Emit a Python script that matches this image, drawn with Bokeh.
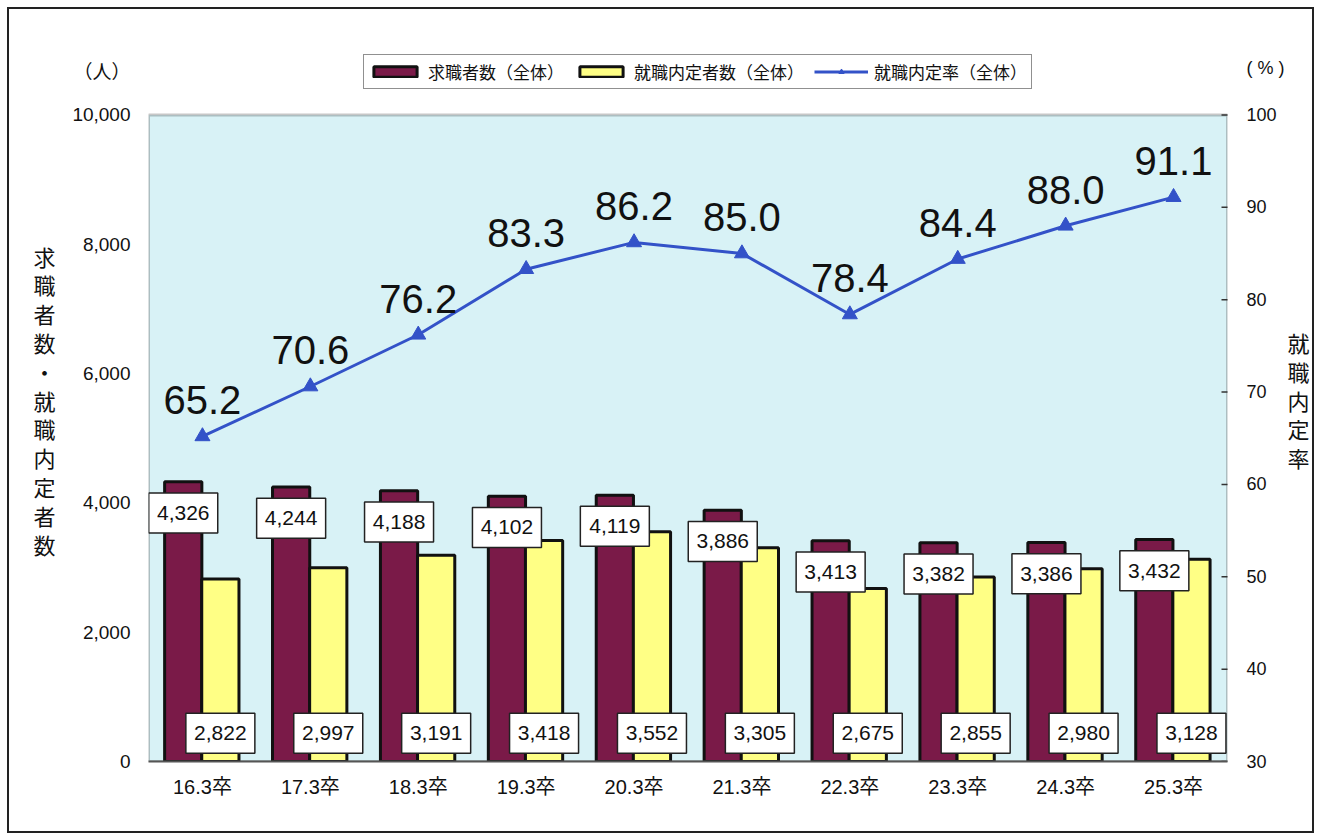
from bokeh.plotting import figure
from bokeh.models import (Range1d, LinearAxis, FixedTicker,
                          ColumnDataSource, LabelSet, Legend, LegendItem,
                          FactorRange, BoxAnnotation, CustomJSTickFormatter)
from bokeh.transform import dodge
from bokeh.core.properties import value
from bokeh.embed import file_html
from bokeh.resources import INLINE

categories = ["16.3卒", "17.3卒", "18.3卒", "19.3卒", "20.3卒",
              "21.3卒", "22.3卒", "23.3卒", "24.3卒", "25.3卒"]
job_seekers = [4326, 4244, 4188, 4102, 4119, 3886, 3413, 3382, 3386, 3432]
job_offers = [2822, 2997, 3191, 3418, 3552, 3305, 2675, 2855, 2980, 3128]
offer_rate = [65.2, 70.6, 76.2, 83.3, 86.2, 85.0, 78.4, 84.4, 88.0, 91.1]
left_ticks = [0, 2000, 4000, 6000, 8000, 10000]
right_ticks = [30, 40, 50, 60, 70, 80, 90, 100]

legend_labels = ["求職者数（全体）", "就職内定者数（全体）", "就職内定率（全体）"]
left_title = "求\n職\n者\n数\n・\n就\n職\n内\n定\n者\n数"
right_title = "就\n職\n内\n定\n率"
left_unit = "（人）"
right_unit = "( % )"

MAROON = "#7A1A48"
YELLOW = "#FFFF85"
BLUE = "#3352C8"
BG = "#D8F2F6"
JP = "Noto Sans CJK JP"
LAT = "Liberation Sans, Noto Sans CJK JP"

# layout, in page pixels; the figure sits inside a 2px border at (7, 7)
OFF = 9
W, H = 1303, 822
F_LEFT, F_RIGHT = 148 - OFF, 1223 - OFF       # plot-area x extent
F_TOP, AREA_TOP, F_BOTTOM = 37 - OFF, 114 - OFF, 757 - OFF

Y_MAX = 10000
R_MIN, R_MAX = 30, 100
px_per_left = (F_BOTTOM - AREA_TOP) / Y_MAX
px_per_right = (F_BOTTOM - AREA_TOP) / (R_MAX - R_MIN)
Y_TOP = Y_MAX + (AREA_TOP - F_TOP) / px_per_left
R_TOP = R_MAX + (AREA_TOP - F_TOP) / px_per_right
LEFT_UNIT_Y = Y_MAX + (AREA_TOP - (72 - OFF)) / px_per_left
RIGHT_UNIT_Y = R_MAX + (AREA_TOP - (67 - OFF)) / px_per_right

SEEK_LABEL_DROP = 31 / px_per_left    # maroon label box ~31px below bar top
OFFER_LABEL_Y = 435                   # yellow labels sit along the bottom

src = ColumnDataSource(dict(
    cat=categories,
    seekers=job_seekers,
    offers=job_offers,
    rate=offer_rate,
    seekers_txt=[f"{v:,}" for v in job_seekers],
    offers_txt=[f"{v:,}" for v in job_offers],
    rate_txt=[f"{v:.1f}" for v in offer_rate],
    seekers_lbl_y=[v - SEEK_LABEL_DROP for v in job_seekers],
    offers_lbl_y=[OFFER_LABEL_Y] * len(categories),
))
rtick_src = ColumnDataSource(dict(x=[len(categories)] * len(right_ticks), y=right_ticks))

p = figure(width=W, height=H, x_range=FactorRange(*categories),
           y_range=Range1d(0, Y_TOP), output_backend="svg", toolbar_location=None,
           min_border_left=F_LEFT, min_border_right=W - F_RIGHT,
           min_border_top=F_TOP, min_border_bottom=H - F_BOTTOM)
p.background_fill_color = "white"
p.border_fill_color = "white"
p.outline_line_color = None
p.xgrid.grid_line_color = None
p.ygrid.grid_line_color = None
p.styles = {"border": "2px solid #222222", "margin-left": "7px", "margin-top": "7px",
            "box-sizing": "content-box"}

p.extra_y_ranges = {"rate": Range1d(R_MIN, R_TOP)}

# plot area background + border
p.add_layout(BoxAnnotation(bottom=0, top=Y_MAX, fill_color=BG, fill_alpha=1,
                           line_color="#444444", line_width=3, level="underlay"))

# left axis (with unit label on top)
ya = p.yaxis[0]
ya.ticker = FixedTicker(ticks=left_ticks + [LEFT_UNIT_Y])
ya.formatter = CustomJSTickFormatter(
    args=dict(unit=left_unit, top=Y_MAX),
    code="return tick > top ? unit : tick.toLocaleString('en-US', {maximumFractionDigits: 0});")
ya.major_label_text_font = LAT
ya.major_label_text_font_size = "19px"
ya.major_label_text_color = "#111111"
ya.major_tick_line_color = None
ya.minor_tick_line_color = None
ya.axis_line_color = None
ya.major_label_standoff = 12
ya.axis_label = left_title
ya.axis_label_orientation = "horizontal"
ya.axis_label_text_font = JP
ya.axis_label_text_font_size = "22px"
ya.axis_label_text_font_style = "normal"
ya.axis_label_text_color = "#111111"
ya.axis_label_text_line_height = 0.9
ya.axis_label_standoff = 14

# right axis (with unit label on top)
ra = LinearAxis(y_range_name="rate", ticker=FixedTicker(ticks=right_ticks + [RIGHT_UNIT_Y]))
ra.formatter = CustomJSTickFormatter(
    args=dict(unit=right_unit, top=R_MAX),
    code="return tick > top ? unit : tick.toFixed(0);")
ra.major_label_text_font = LAT
ra.major_label_text_font_size = "18px"
ra.major_label_text_color = "#111111"
ra.major_tick_line_color = None
ra.minor_tick_line_color = None
ra.axis_line_color = None
ra.major_label_standoff = 13
ra.axis_label = right_title
ra.axis_label_orientation = "horizontal"
ra.axis_label_text_font = JP
ra.axis_label_text_font_size = "22px"
ra.axis_label_text_font_style = "normal"
ra.axis_label_text_color = "#111111"
ra.axis_label_text_line_height = 0.9
ra.axis_label_standoff = 0
p.add_layout(ra, "right")

# right axis inward tick marks
p.scatter(x="x", y="y", source=rtick_src, y_range_name="rate", marker="dash",
          size=12, line_color="#333333", line_width=1.5)

# x axis
xa = p.xaxis[0]
xa.major_label_text_font = LAT
xa.major_label_text_font_size = "20px"
xa.major_label_text_color = "#111111"
xa.major_tick_line_color = None
xa.minor_tick_line_color = None
xa.major_label_standoff = 8
xa.axis_line_color = "#555555"
xa.axis_line_width = 2

SEEK_DX = -0.178
OFF_DX = 0.166

# bars
r_seek = p.vbar(x=dodge("cat", SEEK_DX, range=p.x_range), top="seekers", width=0.345,
                source=src, fill_color=MAROON, line_color="#111111", line_width=3)
r_off = p.vbar(x=dodge("cat", OFF_DX, range=p.x_range), top="offers", width=0.345,
               source=src, fill_color=YELLOW, line_color="#111111", line_width=3)

# rate line
r_line = p.line(x="cat", y="rate", source=src, y_range_name="rate",
                line_color=BLUE, line_width=3)
r_pts = p.scatter(x="cat", y="rate", source=src, y_range_name="rate",
                  marker="triangle", size=15, fill_color=BLUE, line_color=BLUE)

# value label boxes
p.rect(x=dodge("cat", SEEK_DX, range=p.x_range), y="seekers_lbl_y", width=69, height=40,
       width_units="screen", height_units="screen", source=src,
       fill_color="white", line_color="#222222", line_width=1.5)
p.rect(x=dodge("cat", OFF_DX, range=p.x_range), y="offers_lbl_y", width=69, height=40,
       width_units="screen", height_units="screen", source=src,
       fill_color="white", line_color="#222222", line_width=1.5)

p.add_layout(LabelSet(x=dodge("cat", SEEK_DX, range=p.x_range), y="seekers_lbl_y",
                      text="seekers_txt", source=src,
                      text_align="center", text_baseline="middle",
                      text_font=value(LAT), text_font_size="21px", text_color="#111111"))
p.add_layout(LabelSet(x=dodge("cat", OFF_DX, range=p.x_range), y="offers_lbl_y",
                      text="offers_txt", source=src,
                      text_align="center", text_baseline="middle",
                      text_font=value(LAT), text_font_size="21px", text_color="#111111"))
p.add_layout(LabelSet(x="cat", y="rate", text="rate_txt", source=src,
                      y_range_name="rate", y_offset=36,
                      text_align="center", text_baseline="middle",
                      text_font=value(LAT), text_font_size="40px", text_color="#111111"))

legend = Legend(items=[LegendItem(label=legend_labels[0], renderers=[r_seek]),
                       LegendItem(label=legend_labels[1], renderers=[r_off]),
                       LegendItem(label=legend_labels[2], renderers=[r_line, r_pts])],
                orientation="horizontal", location=(363 - 148, 757 - 85))
legend.label_text_font = JP
legend.label_text_font_size = "17px"
legend.label_text_color = "#111111"
legend.label_height = 18
legend.glyph_width = 54
legend.glyph_height = 13
legend.label_standoff = 6
legend.spacing = 10
legend.padding = 4
legend.margin = 0
legend.border_line_color = "#222222"
legend.border_line_width = 1.5
legend.background_fill_color = "white"
legend.background_fill_alpha = 1
p.add_layout(legend)

open("out.html", "w").write(file_html(p, INLINE))
